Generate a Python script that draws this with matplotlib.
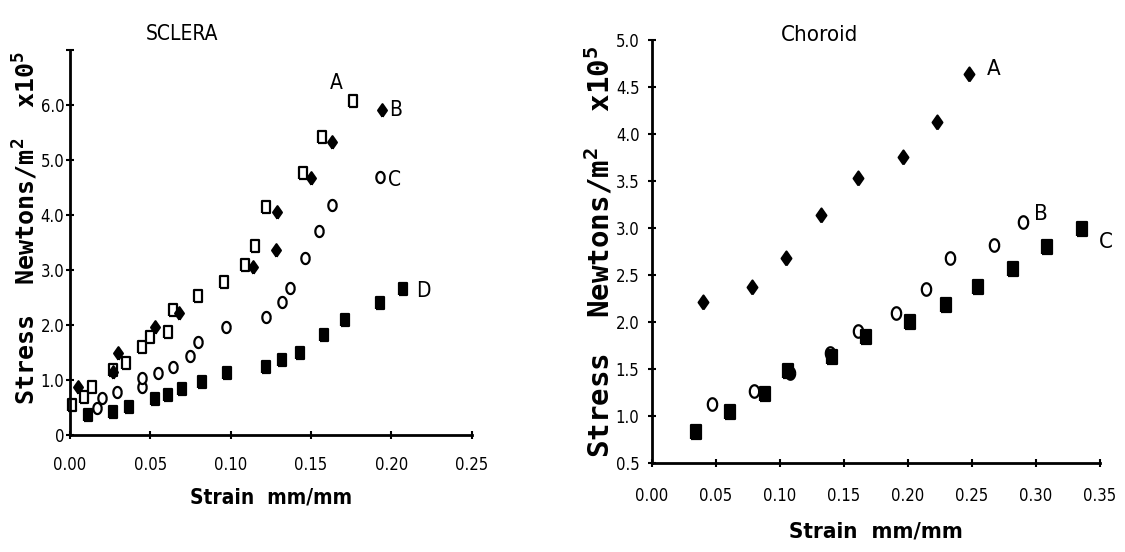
import numpy as np
import matplotlib
matplotlib.use("Agg")
import matplotlib.pyplot as plt

# ---- data ----
# Sclera (left)
sclA_x = [0.001, 0.009, 0.014, 0.027, 0.035, 0.045, 0.050, 0.061, 0.064, 0.080, 0.096,
          0.109, 0.115, 0.122, 0.145, 0.157, 0.176]
sclA_y = [0.55, 0.69, 0.87, 1.18, 1.31, 1.60, 1.78, 1.87, 2.27, 2.53, 2.78,
          3.09, 3.44, 4.15, 4.76, 5.42, 6.07]
sclB_x = [0.005, 0.027, 0.030, 0.053, 0.068, 0.114, 0.128, 0.129, 0.150, 0.163, 0.194]
sclB_y = [0.87, 1.15, 1.49, 1.96, 2.22, 3.06, 3.36, 4.05, 4.67, 5.33, 5.91]
sclC_x = [0.017, 0.020, 0.029, 0.045, 0.045, 0.055, 0.064, 0.075, 0.080, 0.097,
          0.122, 0.132, 0.137, 0.146, 0.155, 0.163, 0.193]
sclC_y = [0.49, 0.67, 0.78, 0.87, 1.04, 1.13, 1.24, 1.44, 1.69, 1.96,
          2.15, 2.42, 2.67, 3.22, 3.71, 4.18, 4.69]
sclD_x = [0.011, 0.027, 0.037, 0.053, 0.061, 0.070, 0.082, 0.098, 0.122, 0.132,
          0.143, 0.158, 0.171, 0.193, 0.207]
sclD_y = [0.36, 0.42, 0.51, 0.65, 0.73, 0.83, 0.96, 1.12, 1.24, 1.36,
          1.49, 1.82, 2.09, 2.40, 2.65]

# Choroid (right)
chA_x = [0.040, 0.078, 0.105, 0.132, 0.161, 0.196, 0.223, 0.248]
chA_y = [2.21, 2.37, 2.68, 3.14, 3.53, 3.76, 4.13, 4.64]
chB_x = [0.047, 0.080, 0.108, 0.139, 0.161, 0.191, 0.214, 0.233, 0.267, 0.290]
chB_y = [1.13, 1.27, 1.46, 1.67, 1.91, 2.10, 2.35, 2.68, 2.82, 3.06]
chC_x = [0.034, 0.061, 0.088, 0.106, 0.141, 0.167, 0.202, 0.230, 0.255, 0.282, 0.309, 0.336]
chC_y = [0.83, 1.04, 1.23, 1.48, 1.63, 1.84, 2.00, 2.18, 2.37, 2.57, 2.80, 2.99]

scl_xticks = [0.00, 0.05, 0.10, 0.15, 0.20, 0.25]
scl_yticks = [0, 1, 2, 3, 4, 5, 6, 7]
scl_ylabels = ["0", "1.0", "2.0", "3.0", "4.0", "5.0", "6.0", ""]
ch_xticks = [0.00, 0.05, 0.10, 0.15, 0.20, 0.25, 0.30, 0.35]
ch_yticks = [0.5, 1.0, 1.5, 2.0, 2.5, 3.0, 3.5, 4.0, 4.5, 5.0]

plt.rcParams["mathtext.fontset"] = "custom"
plt.rcParams["mathtext.rm"] = "DejaVu Sans Mono:bold"
plt.rcParams["mathtext.bf"] = "DejaVu Sans Mono:bold"
plt.rcParams["font.stretch"] = "condensed"

NARROW = dict(family="DejaVu Sans", stretch="condensed")

# tall marker shapes (the scan is stretched vertically)
rect = [(-0.7, -1), (0.7, -1), (0.7, 1), (-0.7, 1), (-0.7, -1)]
t = np.linspace(0, 2 * np.pi, 40)
oval = list(zip(0.75 * np.cos(t), np.sin(t)))
diam = [(0, -1), (0.7, 0), (0, 1), (-0.7, 0), (0, -1)]

fig = plt.figure(figsize=(11.25, 5.52), dpi=100)
ax1 = fig.add_axes([0.0622, 0.212, 0.357, 0.697])
ax2 = fig.add_axes([0.5796, 0.1612, 0.398, 0.766])


def style(ax, xt, yt, ylab, xfmt, xpad, ypad):
    for s in ["top", "right"]:
        ax.spines[s].set_visible(False)
    for s in ["left", "bottom"]:
        ax.spines[s].set_linewidth(2)
    ax.set_xticks(xt)
    ax.set_xticklabels([xfmt % v for v in xt], fontsize=12, **NARROW)
    ax.set_yticks(yt)
    ax.set_yticklabels(ylab, fontsize=12, **NARROW)
    ax.tick_params(axis="both", direction="inout", length=6, width=1.5)
    ax.tick_params(axis="x", pad=xpad)
    ax.tick_params(axis="y", pad=ypad)


def pts(ax, x, y, mk, filled, ms):
    ax.plot(x, y, ls="none", marker=mk, ms=ms, mec="black",
            mfc="black" if filled else "white", mew=1.6, clip_on=False)


# ---- SCLERA ----
pts(ax1, sclA_x, sclA_y, rect, False, 9)
pts(ax1, sclB_x, sclB_y, diam, True, 9)
pts(ax1, sclC_x, sclC_y, oval, False, 8)
pts(ax1, sclD_x, sclD_y, rect, True, 9)
ax1.set_xlim(0, 0.25)
ax1.set_ylim(0, 7)
style(ax1, scl_xticks, scl_yticks, scl_ylabels, "%.2f", 12, 1)
for lab, x, y in [("A", 0.166, 6.4), ("B", 0.203, 5.92), ("C", 0.202, 4.63), ("D", 0.220, 2.62)]:
    ax1.text(x, y, lab, fontsize=15, va="center", ha="center", **NARROW)
ax1.text(0.28, 1.042, "SCLERA", transform=ax1.transAxes,
         fontsize=15, ha="center", va="center", **NARROW)
ax1.set_xlabel("Strain  mm/mm", fontsize=15, fontweight="bold", labelpad=10, **NARROW)

# ---- Choroid ----
pts(ax2, chA_x, chA_y, diam, True, 10)
pts(ax2, chB_x, chB_y, oval, False, 9)
pts(ax2, chC_x, chC_y, rect, True, 10)
ax2.set_xlim(0, 0.35)
ax2.set_ylim(0.5, 5.0)
style(ax2, ch_xticks, ch_yticks, ["%.1f" % v for v in ch_yticks], "%.2f", 14, 6)
for lab, x, y in [("A", 0.267, 4.69), ("B", 0.304, 3.15), ("C", 0.355, 2.85)]:
    ax2.text(x, y, lab, fontsize=16, va="center", ha="center", **NARROW)
ax2.text(0.375, 1.012, "Choroid", transform=ax2.transAxes,
         fontsize=16, ha="center", va="center", **NARROW)
ax2.set_xlabel("Strain  mm/mm", fontsize=16, fontweight="bold", labelpad=12, **NARROW)

# rotated y labels
ylabel = r"Stress  Newtons/m$^\mathbf{2}$  x10$^\mathbf{5}$"
fig.text(0.0356, 0.587, ylabel, rotation=90, ha="right", va="center",
         family="DejaVu Sans Mono", stretch="normal", fontweight="bold", fontsize=18)
fig.text(0.5467, 0.543, ylabel, rotation=90, ha="right", va="center",
         family="DejaVu Sans Mono", stretch="normal", fontweight="bold", fontsize=21)

fig.savefig("out.png", dpi=100)
